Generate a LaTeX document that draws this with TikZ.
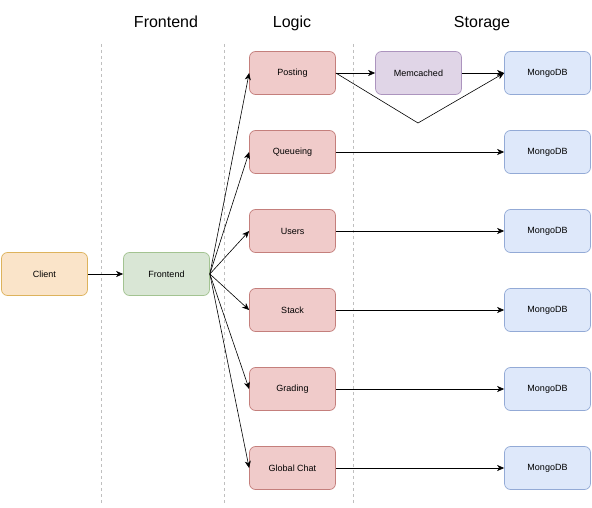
\documentclass[tikz,border=0pt]{standalone}
\usepackage{fontspec}
\setmainfont{Liberation Sans}
\usetikzlibrary{arrows.meta}

% draw.io palette (as rendered, a little faded)
\definecolor{clientfill}{HTML}{FAE4C9}
\definecolor{clientline}{HTML}{DDB35C}
\definecolor{frontfill}{HTML}{D9E6D5}
\definecolor{frontline}{HTML}{A3C391}
\definecolor{logicfill}{HTML}{F0CBCA}
\definecolor{logicline}{HTML}{C47F7C}
\definecolor{cachefill}{HTML}{E0D5E7}
\definecolor{cacheline}{HTML}{AC94BE}
\definecolor{dbfill}{HTML}{DEE8FA}
\definecolor{dbline}{HTML}{93AAD6}

\begin{document}
\begin{tikzpicture}[x=1pt,y=-1pt,
  box/.style={draw, rounded corners=6pt, line width=0.7pt,
    minimum width=86pt, minimum height=43pt, inner sep=0pt,
    font=\fontsize{9}{11}\selectfont},
  client/.style={box, fill=clientfill, draw=clientline},
  front/.style={box, fill=frontfill, draw=frontline},
  logic/.style={box, fill=logicfill, draw=logicline},
  cache/.style={box, fill=cachefill, draw=cacheline},
  db/.style={box, fill=dbfill, draw=dbline},
  heading/.style={font=\fontsize{16}{19}\selectfont, anchor=base},
  lane/.style={draw=black!25, line width=0.6pt, dash pattern=on 3pt off 3pt},
  link/.style={line width=0.6pt, -{Stealth[length=7pt,width=6pt,inset=2pt]}}]

% Canvas
\useasboundingbox (0,0) rectangle (592,508);

% Column headings
\node[heading] (hfront) at (166,28) {Frontend};
\node[heading] (hlogic) at (292,28) {Logic};
\node[heading] (hstore) at (482,28) {Storage};

% Lane separators
\draw[lane] (101,44) -- (101,504);
\draw[lane] (224,44) -- (224,504);
\draw[lane] (353,44) -- (353,504);

% Client and frontend
\node[client] (client) at (44.5,274) {Client};
\node[front] (frontend) at (166.5,274) {Frontend};

% Logic services
\node[logic] (posting) at (292.5,73) {Posting};
\node[logic] (queueing) at (292.5,152) {Queueing};
\node[logic] (users) at (292.5,231) {Users};
\node[logic] (stack) at (292.5,310) {Stack};
\node[logic] (grading) at (292.5,389) {Grading};
\node[logic] (chat) at (292.5,468) {Global Chat};

% Storage
\node[cache] (memcached) at (418.5,73) {Memcached};
\node[db] (db1) at (547.5,73) {MongoDB};
\node[db] (db2) at (547.5,152) {MongoDB};
\node[db] (db3) at (547.5,231) {MongoDB};
\node[db] (db4) at (547.5,310) {MongoDB};
\node[db] (db5) at (547.5,389) {MongoDB};
\node[db] (db6) at (547.5,468) {MongoDB};

% Client to frontend
\draw[link] (client) -- (frontend);

% Frontend fans out to every service
\foreach \svc in {posting,queueing,users,stack,grading,chat}
  \draw[link] (frontend.east) -- (\svc.west);

% Posting goes through the cache, or straight to the database
\coordinate (dip) at (418,123);
\draw[link] (posting) -- (memcached);
\draw[link] (memcached) -- (db1);
\draw[link] (posting.east) -- (dip) -- (db1.west);

% Other services to their databases
\draw[link] (queueing) -- (db2);
\draw[link] (users) -- (db3);
\draw[link] (stack) -- (db4);
\draw[link] (grading) -- (db5);
\draw[link] (chat) -- (db6);

\end{tikzpicture}
\end{document}
